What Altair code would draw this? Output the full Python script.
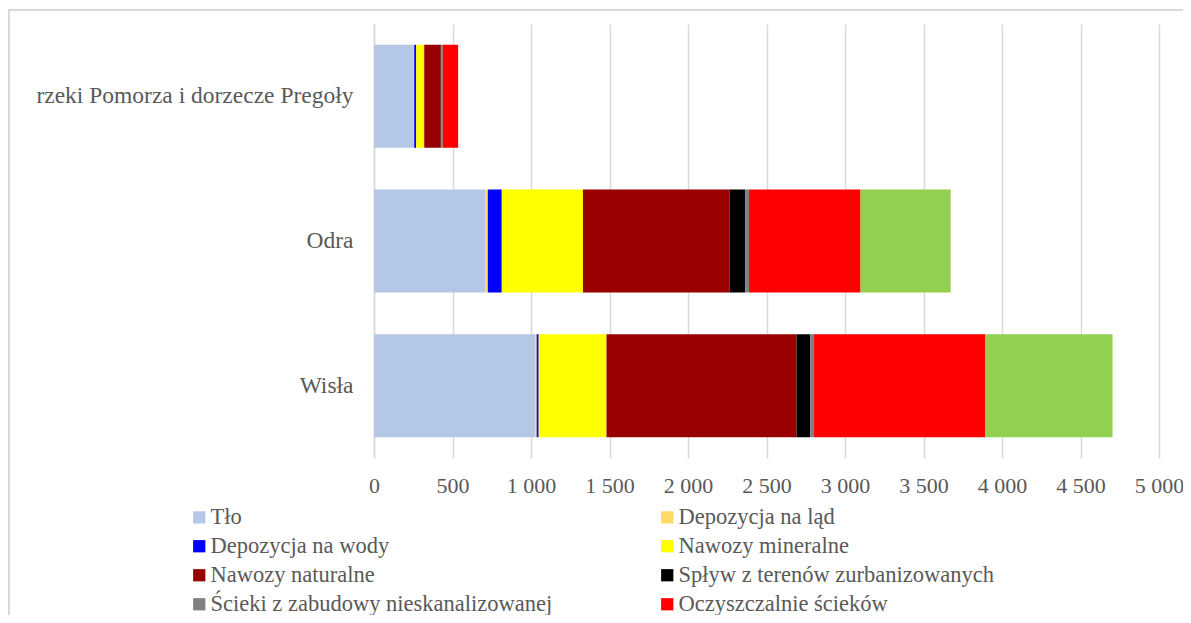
import altair as alt
import pandas as pd

categories = ["rzeki Pomorza i dorzecze Pregoły", "Odra", "Wisła"]
sources = [
    "Tło",
    "Depozycja na ląd",
    "Depozycja na wody",
    "Nawozy mineralne",
    "Nawozy naturalne",
    "Spływ z terenów zurbanizowanych",
    "Ścieki z zabudowy nieskanalizowanej",
    "Oczyszczalnie ścieków",
    "Ładunek transgraniczny",
]
colors = ["#B4C7E7", "#FFD966", "#0000FF", "#FFFF00", "#990000",
          "#000000", "#808080", "#FF0000", "#92D050"]

# values per source, in category order (Pomorze, Odra, Wisła)
tlo = [254, 708, 1028]
dep_lad = [2, 17, 8]
dep_wody = [13, 89, 13]
naw_min = [51, 517, 432]
naw_nat = [104, 935, 1210]
splyw = [3, 98, 87]
scieki = [11, 25, 25]
oczyszcz = [98, 710, 1091]
transgr = [0, 574, 810]

series = [tlo, dep_lad, dep_wody, naw_min, naw_nat, splyw, scieki, oczyszcz, transgr]

rows = []
for si, (name, vals) in enumerate(zip(sources, series)):
    for ci, cat in enumerate(categories):
        rows.append({"kategoria": cat, "zrodlo": name, "wartosc": vals[ci], "kolejnosc": si})
df = pd.DataFrame(rows)

# legend entries are laid out column by column, so list them so that they read row by row
legend_order = [sources[i] for i in (0, 2, 4, 6, 1, 3, 5, 7)]

x_ticks = list(range(0, 5001, 500))
FONT = "Liberation Serif"
TXT = "#595959"
GRID = "#D9D9D9"

bars = alt.Chart(df).mark_bar(strokeWidth=0).encode(
    y=alt.Y(
        "kategoria:N",
        sort=categories,
        scale=alt.Scale(paddingInner=0.288, paddingOuter=0.144),
        axis=alt.Axis(
            title=None, ticks=False, domain=True, domainColor=GRID, domainWidth=1.5,
            labelFont=FONT, labelFontSize=23.5, labelColor=TXT, labelPadding=21,
            labelLimit=400,
        ),
    ),
    x=alt.X(
        "sum(wartosc):Q",
        stack="zero",
        scale=alt.Scale(domain=[0, 5000], nice=False),
        axis=alt.Axis(
            title=None, values=x_ticks, ticks=False, domain=False,
            grid=True, gridColor=GRID, gridWidth=1.5,
            labelFont=FONT, labelFontSize=22, labelColor=TXT, labelPadding=17,
            labelFlush=False, labelOverlap=False,
            labelExpr="replace(format(datum.value, ',.0f'), ',', ' ')",
        ),
    ),
    color=alt.Color(
        "zrodlo:N",
        scale=alt.Scale(domain=sources, range=colors),
        legend=alt.Legend(
            title=None, orient="none", legendX=-186, legendY=482,
            columns=2, columnPadding=103, rowPadding=6,
            values=legend_order,
            symbolType="square", symbolSize=150, symbolStrokeWidth=0,
            labelFont=FONT, labelFontSize=22.5, labelColor=TXT, labelOffset=0,
            labelLimit=500,
        ),
    ),
    order=alt.Order("kolejnosc:Q", sort="ascending"),
)

frame = alt.Chart(df).mark_rect(fill=None, stroke=GRID, strokeWidth=1.5).encode(
    x=alt.value(-365), x2=alt.value(900), y=alt.value(-14), y2=alt.value(700)
)

chart = alt.layer(frame, bars).properties(
    width=785,
    height=434,
    background="white",
    autosize=alt.AutoSizeParams(type="none"),
    padding={"left": 366, "top": 16, "right": 24, "bottom": 157},
).configure_view(stroke=None)

chart.save("out.html", embed_options={"renderer": "svg", "actions": False})
